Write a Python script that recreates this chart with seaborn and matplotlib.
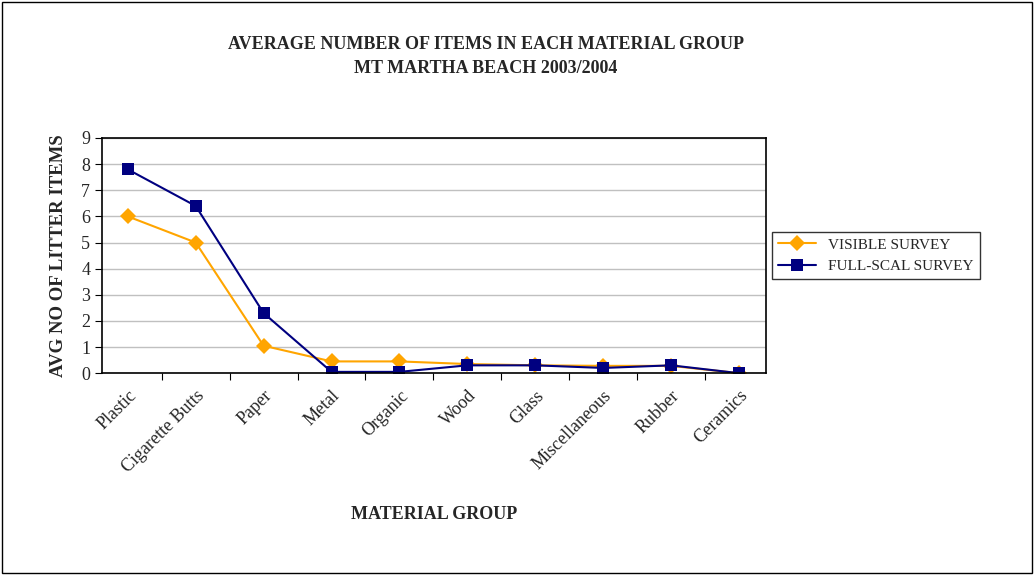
import pandas as pd
import seaborn as sns
import matplotlib.pyplot as plt
from matplotlib.patches import Rectangle

materials = ["Plastic", "Cigarette Butts", "Paper", "Metal", "Organic", "Wood",
             "Glass", "Miscellaneous", "Rubber", "Ceramics"]
visible = [6.0, 5.0, 1.05, 0.45, 0.45, 0.35, 0.3, 0.28, 0.28, 0.0]
fullscale = [7.8, 6.4, 2.3, 0.05, 0.05, 0.3, 0.3, 0.2, 0.3, 0.0]

df = pd.DataFrame({"Material": materials * 2,
                   "Value": visible + fullscale,
                   "Survey": ["VISIBLE SURVEY"] * 10 + ["FULL-SCAL SURVEY"] * 10})
df["x"] = list(range(10)) * 2

sns.set_style("white")
plt.rcParams['font.family'] = ['Liberation Serif', 'DejaVu Serif']

fig = plt.figure(figsize=(10.34, 5.75), dpi=100)
ax = fig.add_axes([0.0986, 0.351, 0.6424, 0.409])
sns.lineplot(data=df, x="x", y="Value", hue="Survey", style="Survey",
             palette={"VISIBLE SURVEY": "#FFA500", "FULL-SCAL SURVEY": "#000080"},
             markers={"VISIBLE SURVEY": "D", "FULL-SCAL SURVEY": "s"},
             dashes=False, markersize=8, linewidth=1.5, markeredgewidth=0, ax=ax)

ax.set_xlim(-0.38, 9.4)
ax.set_ylim(0, 9)
ax.set_yticks(range(10))
ax.yaxis.grid(True, color="#c0c0c0", linewidth=1)
ax.set_xticks([i - 0.5 for i in range(1, 10)], minor=False)
ax.set_xticklabels([])
ax.set_xticks(range(10), minor=True)
ax.set_xticklabels(materials, minor=True, rotation=45, ha="right", rotation_mode="anchor", fontsize=13)
ax.tick_params(axis="x", which="minor", length=0, pad=10)
ax.tick_params(axis="x", which="major", length=5, direction="out", color="black", bottom=True)
ax.tick_params(axis="y", length=5, direction="out", labelsize=13, color="black", left=True)
for s in ax.spines.values():
    s.set_color("black")
    s.set_linewidth(1.2)
ax.set_xlabel("MATERIAL GROUP", fontsize=13, fontweight="bold", labelpad=22)
ax.set_ylabel("AVG NO OF LITTER ITEMS", fontsize=13.5, fontweight="bold", labelpad=10)
fig.text(0.47, 0.902, "AVERAGE NUMBER OF ITEMS IN EACH MATERIAL GROUP\nMT MARTHA BEACH 2003/2004",
         ha="center", va="center", fontsize=13, fontweight="bold", linespacing=1.5)

leg = ax.legend(loc="center left", bbox_to_anchor=(1.008, 0.5), frameon=True,
                fancybox=False, edgecolor="black", fontsize=11, title=None,
                handlelength=2.5, borderpad=0.4, borderaxespad=0)
leg.get_frame().set_linewidth(1)

fig.patches.append(Rectangle((0.002, 0.003), 0.996, 0.994, transform=fig.transFigure,
                             fill=False, edgecolor="black", linewidth=1))
fig.savefig("out.png", dpi=100)
